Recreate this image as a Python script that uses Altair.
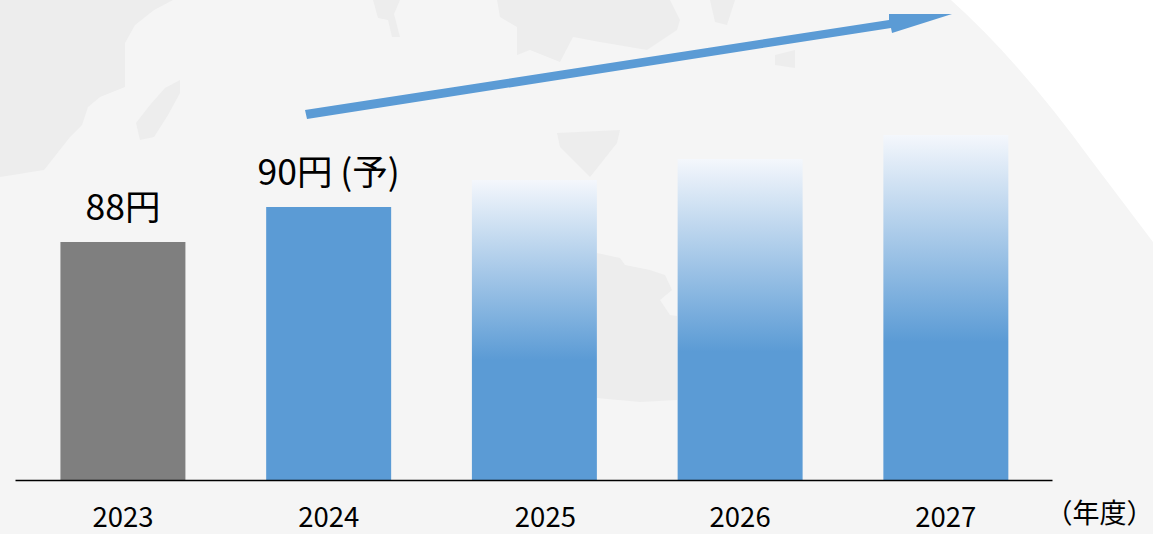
import altair as alt
import pandas as pd

# Dividend per share by fiscal year
years = ["2023", "2024", "2025", "2026", "2027"]
actual_years = ["2023", "2024"]
actual_values = [88, 90]
actual_labels = ["88円", "90円 (予)"]
actual_colors = ["#7f7f7f", "#5b9bd5"]
outlook_years = ["2025", "2026", "2027"]
outlook_values = [91.54, 92.74, 94.11]
axis_floor = 74.4

FONT = "Noto Sans CJK JP"
BLUE = "#5b9bd5"

# Faint world-map backdrop and the upward trend arrow, in page pixels
GLOBE = "M0,0 L951,0 Q1020,62 1091,160 L1153,242 L1153,534 L0,534 Z"
WATER = [
    "M0,0 L173,0 L154,10 L135,25 L125,43 L125,87 L100,97 L88,107 L82,125 L70,137 L44,170 L0,177 Z",
    "M180,80 L165,88 L150,105 L136,123 L140,140 L154,137 L168,115 L180,93 Z",
    "M373,0 L400,0 L394,14 L400,37 L392,37 L388,20 L378,18 Z",
    "M497,0 L500,17 L517,27 L517,55 L530,50 L560,62 L573,37 L600,42 L647,50 L677,30 L680,20 L670,0 Z",
    "M557,133 L620,130 L617,143 L590,177 L573,160 L560,147 Z",
    "M597,253 L620,258 L625,265 L650,270 L665,275 L672,290 L660,300 L670,315 L677,316 L677,400 L640,402 L597,398 Z",
    "M710,0 L735,0 L727,25 L715,22 Z",
    "M775,55 L795,50 L795,68 L775,65 Z",
]
TREND_ARROW = "M305,110 L889,20 L889,14 L952,14 L892,33 L891,28 L307,119 Z"

actual = pd.DataFrame({"year": actual_years, "value": actual_values, "base": axis_floor,
                       "label": actual_labels, "color": actual_colors})
outlook = pd.DataFrame({"year": outlook_years, "value": outlook_values, "base": axis_floor})

x = alt.X(
    "year:N",
    scale=alt.Scale(domain=years, paddingInner=0.3925, paddingOuter=0.2165, align=0.51),
    axis=alt.Axis(
        title="（年度）",
        titleFont=FONT,
        titleFontSize=27,
        titleFontWeight="normal",
        titleColor="#000000",
        titleX=1084,
        titleY=34,
        titleAlign="center",
        titleBaseline="middle",
        labelFont=FONT,
        labelFontSize=27.5,
        labelColor="#000000",
        labelAngle=0,
        labelPadding=24,
        labelOffset={"condition": {"test": "datum.value == '2025'", "value": 11}, "value": 0},
        ticks=False,
        grid=False,
        domainColor="#000000",
        domainWidth=1.5,
        zindex=1,
    ),
)
y = alt.Y("value:Q", scale=alt.Scale(domain=[axis_floor, 101.83], zero=False), axis=None)


def backdrop(path, fill):
    return alt.Chart(pd.DataFrame({"k": [0]})).mark_point(
        shape=path, size=4, filled=True, fill=fill, opacity=1, strokeWidth=0, clip=False
    ).encode(x=alt.value(-15), y=alt.value(0))


fade = alt.Gradient(
    gradient="linear",
    x1=0, y1=0, x2=0, y2=1,
    stops=[alt.GradientStop(offset=0, color="#f4f7fc"),
           alt.GradientStop(offset=0.6, color=BLUE),
           alt.GradientStop(offset=1, color=BLUE)],
)

solid_bars = alt.Chart(actual).mark_bar().encode(
    x=x, y=y, y2="base:Q", color=alt.Color("color:N", scale=None)
)
faded_bars = alt.Chart(outlook).mark_bar(color=fade).encode(x=x, y=y, y2="base:Q")
labels = alt.Chart(actual).mark_text(
    font=FONT, fontSize=35.5, color="#000000", baseline="alphabetic", dy=-22
).encode(x=x, y=y, text="label:N")

chart = alt.layer(
    backdrop(GLOBE, "#f5f5f5"),
    *[backdrop(p, "#ededed") for p in WATER],
    solid_bars,
    faded_bars,
    labels,
    backdrop(TREND_ARROW, BLUE),
).properties(
    width=1037,
    height=480,
    background="#ffffff",
    padding={"left": 15, "top": 0, "right": 101, "bottom": 54},
    autosize=alt.AutoSizeParams(type="none"),
).configure_view(stroke=None)

chart.save("out.html", embed_options={"renderer": "svg", "actions": False})
